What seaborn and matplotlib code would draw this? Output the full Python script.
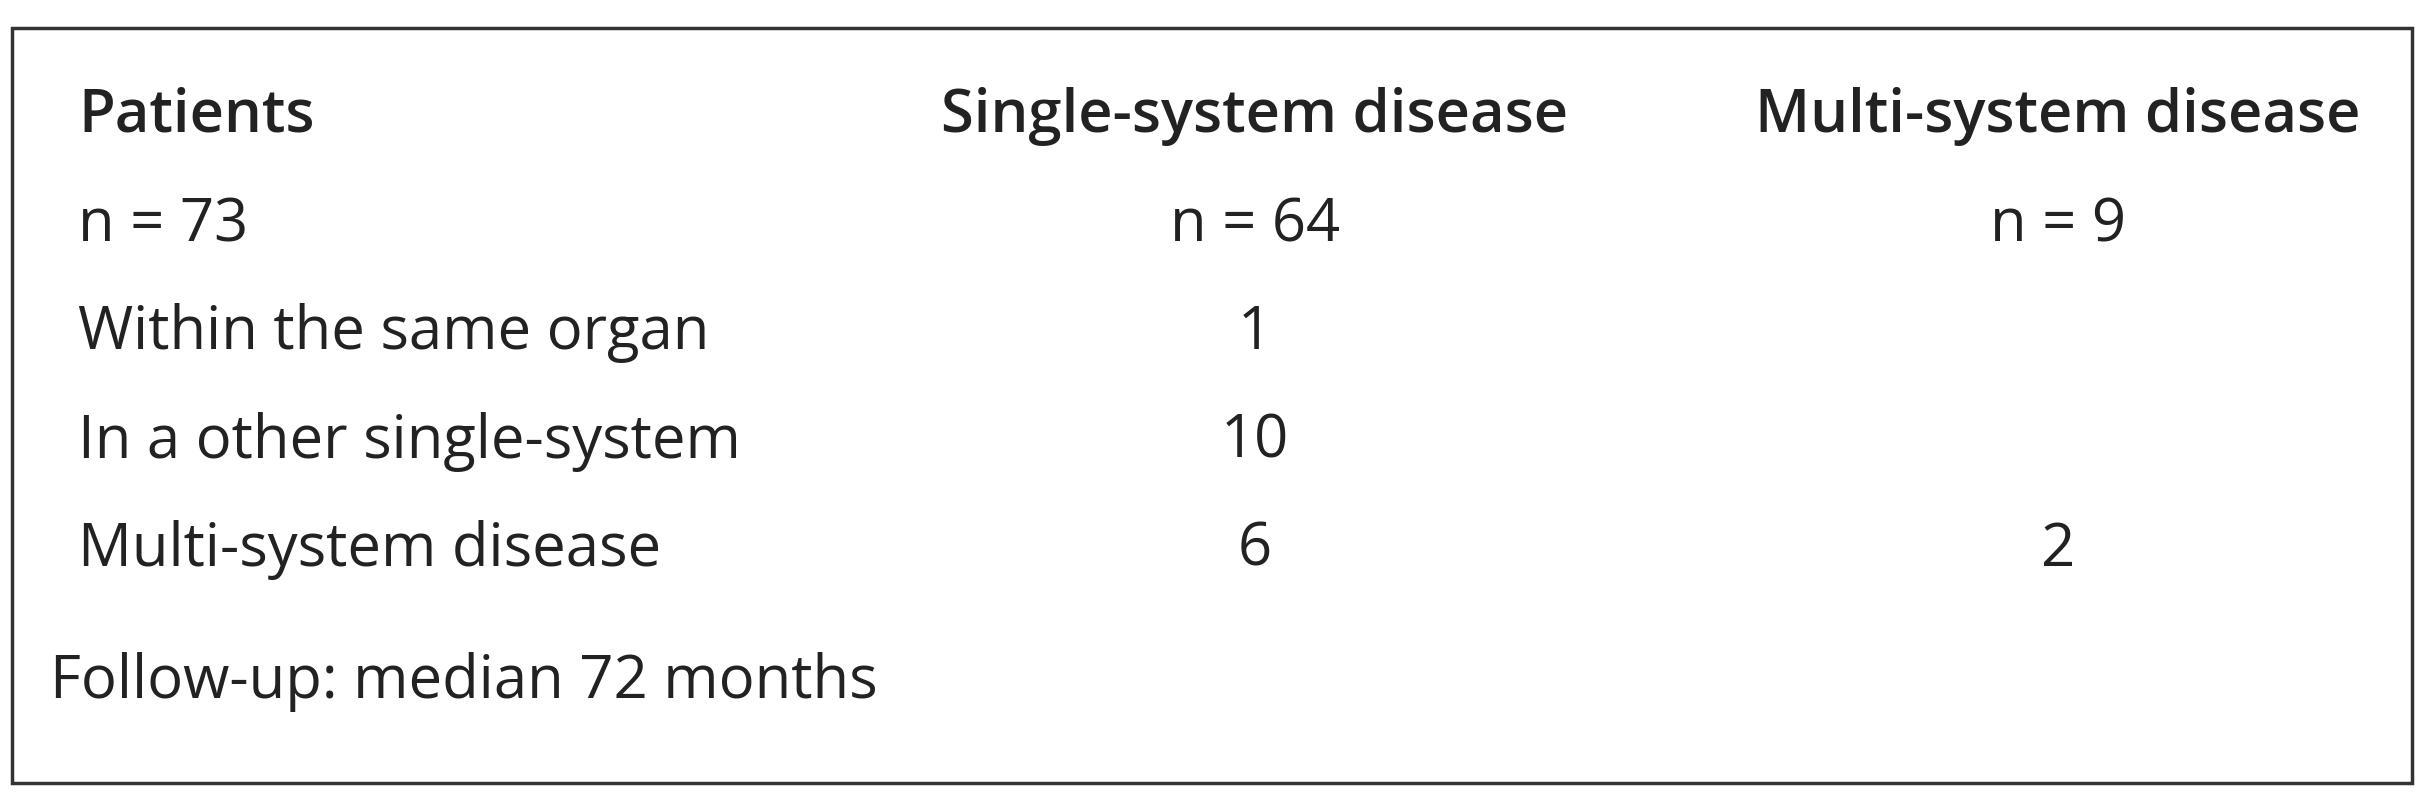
import matplotlib
matplotlib.use("Agg")
import matplotlib.pyplot as plt
import seaborn as sns
from matplotlib.patches import Rectangle

headers = ["Patients", "Single-system disease", "Multi-system disease"]
row_labels = ["n = 73", "Within the same organ", "In a other single-system", "Multi-system disease"]
single_vals = ["n = 64", "1", "10", "6"]
multi_vals = ["n = 9", "", "", "2"]
footer = "Follow-up: median 72 months"

sns.set_theme(style="white")
plt.rcParams['font.family'] = ['Open Sans', 'DejaVu Sans']

W, H = 2430, 800
fig = plt.figure(figsize=(24.3, 8), dpi=100)
ax = fig.add_axes([0, 0, 1, 1])
ax.set_xlim(0, W)
ax.set_ylim(H, 0)
ax.axis("off")

ax.add_patch(Rectangle((12, 28), 2400, 755, fill=False, edgecolor="#333333", lw=2.5))

fs = 43
col1_x, col2_x, col3_x = 78, 1255, 2058
ys = [116, 225, 333, 442, 550]
ax.text(col1_x, ys[0], headers[0], fontsize=fs, fontweight="semibold", va="center", ha="left", color="#222222")
ax.text(col2_x, ys[0], headers[1], fontsize=fs, fontweight="semibold", va="center", ha="center", color="#222222")
ax.text(col3_x, ys[0], headers[2], fontsize=fs, fontweight="semibold", va="center", ha="center", color="#222222")
for i, (lab, s, m) in enumerate(zip(row_labels, single_vals, multi_vals)):
    y = ys[i + 1]
    ax.text(col1_x, y, lab, fontsize=fs, va="center", ha="left", color="#222222")
    ax.text(col2_x, y, s, fontsize=fs, va="center", ha="center", color="#222222")
    ax.text(col3_x, y, m, fontsize=fs, va="center", ha="center", color="#222222")
ax.text(50, 682, footer, fontsize=fs, va="center", ha="left", color="#222222")

fig.savefig("out.png", dpi=100)
